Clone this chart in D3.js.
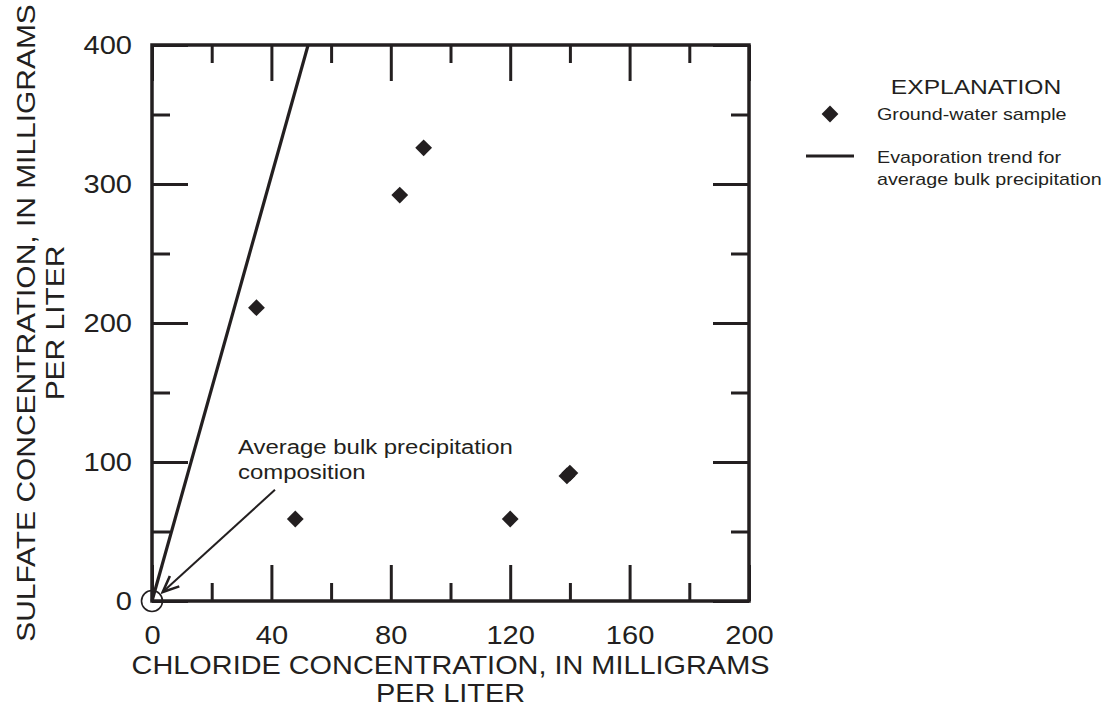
<!DOCTYPE html>
<html>
<head>
<meta charset="utf-8">
<script src="https://cdn.jsdelivr.net/npm/d3@7"></script>
<style>
  html, body { margin: 0; padding: 0; background: #fff; }
  svg text { font-family: "Liberation Sans", Arial, sans-serif; fill: #231f20; }
</style>
</head>
<body>
<svg id="chart" width="1106" height="721"></svg>
<script>
// Ground-water samples: chloride (x) vs sulfate (y), mg/L
const chloride = [35, 48, 83, 91, 120, 139, 140];
const sulfate  = [211, 59, 292, 326, 59, 90, 92];

// Evaporation trend line for average bulk precipitation
const trendChloride = [0, 52.3];
const trendSulfate  = [0, 400];

// Average bulk precipitation composition (origin)
const bulkChloride = 0;
const bulkSulfate = 0;

const xMajorTicks = [0, 40, 80, 120, 160, 200];
const xMinorTicks = [20, 60, 100, 140, 180];
const yMajorTicks = [0, 100, 200, 300, 400];
const yMinorTicks = [50, 150, 250, 350];

const xTitle = ["CHLORIDE CONCENTRATION, IN MILLIGRAMS", "PER LITER"];
const yTitle = ["SULFATE CONCENTRATION, IN MILLIGRAMS", "PER LITER"];
const noteLines = ["Average bulk precipitation", "composition"];
const legendTitle = "EXPLANATION";
const legendSample = "Ground-water sample";
const legendTrend = ["Evaporation trend for", "average bulk precipitation"];

const ink = "#231f20";
const plotLeft = 152, plotRight = 749, plotTop = 45, plotBottom = 601;

const svg = d3.select("#chart");
const x = d3.scaleLinear().domain([0, 200]).range([plotLeft, plotRight]);
const y = d3.scaleLinear().domain([0, 400]).range([plotBottom, plotTop]);

// Text drawn with a slightly wide set: scale glyphs horizontally about the anchor
function label(parent, str, px, py, size, k, anchor = "start") {
  return parent.append("text")
    .attr("transform", `translate(${px},${py}) scale(${k},1)`)
    .attr("text-anchor", anchor)
    .style("font-size", size + "px")
    .text(str);
}

// Axes (ticks point inward on all four sides)
function styleAxis(g) {
  g.select(".domain").remove();
  g.selectAll(".tick line").attr("stroke", ink).attr("stroke-width", 3);
  g.selectAll(".tick text")
    .style("font-size", "26px").attr("fill", ink)
    .attr("transform", function () {
      const tx = +this.getAttribute("x") || 0;
      return `translate(${tx},0) scale(1.12,1) translate(${-tx},0)`;
    });
}
const fmt = d3.format("d");

svg.append("g").attr("transform", `translate(0,${plotBottom})`)
  .call(d3.axisBottom(x).tickValues(xMajorTicks).tickSize(-36).tickPadding(25).tickFormat(fmt))
  .call(styleAxis);
svg.append("g").attr("transform", `translate(0,${plotBottom})`)
  .call(d3.axisBottom(x).tickValues(xMinorTicks).tickSize(-18).tickFormat(""))
  .call(styleAxis);
svg.append("g").attr("transform", `translate(0,${plotTop})`)
  .call(d3.axisTop(x).tickValues(xMajorTicks).tickSize(-36).tickFormat(""))
  .call(styleAxis);
svg.append("g").attr("transform", `translate(0,${plotTop})`)
  .call(d3.axisTop(x).tickValues(xMinorTicks).tickSize(-18).tickFormat(""))
  .call(styleAxis);
svg.append("g").attr("transform", `translate(${plotLeft},0)`)
  .call(d3.axisLeft(y).tickValues(yMajorTicks).tickSize(-36).tickPadding(20).tickFormat(fmt))
  .call(styleAxis);
svg.append("g").attr("transform", `translate(${plotLeft},0)`)
  .call(d3.axisLeft(y).tickValues(yMinorTicks).tickSize(-18).tickFormat(""))
  .call(styleAxis);
svg.append("g").attr("transform", `translate(${plotRight},0)`)
  .call(d3.axisRight(y).tickValues(yMajorTicks).tickSize(-36).tickFormat(""))
  .call(styleAxis);
svg.append("g").attr("transform", `translate(${plotRight},0)`)
  .call(d3.axisRight(y).tickValues(yMinorTicks).tickSize(-18).tickFormat(""))
  .call(styleAxis);

// Plot frame
svg.append("rect")
  .attr("x", plotLeft).attr("y", plotTop)
  .attr("width", plotRight - plotLeft).attr("height", plotBottom - plotTop)
  .attr("fill", "none").attr("stroke", ink).attr("stroke-width", 3.5);

// Evaporation trend line
svg.append("path")
  .datum(d3.zip(trendChloride, trendSulfate))
  .attr("d", d3.line().x(d => x(d[0])).y(d => y(d[1])))
  .attr("stroke", ink).attr("stroke-width", 3.2).attr("fill", "none");

// Ground-water samples
const diamond = d3.symbol().type(d3.symbolDiamond2).size(180);
svg.append("g").selectAll("path")
  .data(d3.zip(chloride, sulfate))
  .join("path")
  .attr("d", diamond)
  .attr("transform", d => `translate(${x(d[0])},${y(d[1])})`)
  .attr("fill", ink);

// Bulk precipitation composition marker
svg.append("circle")
  .attr("cx", x(bulkChloride)).attr("cy", y(bulkSulfate)).attr("r", 10.5)
  .attr("fill", "none").attr("stroke", ink).attr("stroke-width", 1.6);

// Annotation arrow pointing to the composition
svg.append("defs").append("marker")
  .attr("id", "arrowhead")
  .attr("viewBox", "0 0 20 20").attr("refX", 18).attr("refY", 10)
  .attr("markerWidth", 20).attr("markerHeight", 20)
  .attr("markerUnits", "userSpaceOnUse").attr("orient", "auto")
  .append("path")
  .attr("d", "M2,3 L18,10 L2,17")
  .attr("fill", "none").attr("stroke", ink).attr("stroke-width", 2.6);

const noteFrom = [41.2, 80];
const noteTo = [3.6, 6.5];
svg.append("line")
  .attr("x1", x(noteFrom[0])).attr("y1", y(noteFrom[1]))
  .attr("x2", x(noteTo[0])).attr("y2", y(noteTo[1]))
  .attr("stroke", ink).attr("stroke-width", 2)
  .attr("marker-end", "url(#arrowhead)");

const noteAnchor = [28.8, 106];
noteLines.forEach((s, i) =>
  label(svg, s, x(noteAnchor[0]), y(noteAnchor[1]) + i * 25, 21, 1.14));

// Axis titles
xTitle.forEach((s, i) =>
  label(svg, s, (plotLeft + plotRight) / 2, 674 + i * 28, 26.5, 1.09, "middle"));

const yTitleG = svg.append("g")
  .attr("transform", `translate(0,${(plotTop + plotBottom) / 2}) rotate(-90)`);
yTitle.forEach((s, i) => label(yTitleG, s, 0, 35 + i * 29, 26.5, 1.13, "middle"));

// Legend
const lg = svg.append("g");
label(lg, legendTitle, 976, 94, 20.5, 1.2, "middle");
lg.append("path").attr("d", diamond).attr("transform", "translate(830,114)").attr("fill", ink);
label(lg, legendSample, 877, 120, 17, 1.16);
lg.append("line").attr("x1", 806).attr("x2", 854).attr("y1", 156).attr("y2", 156)
  .attr("stroke", ink).attr("stroke-width", 3);
legendTrend.forEach((s, i) => label(lg, s, 877, 163 + i * 22, 17, 1.16));
</script>
</body>
</html>
